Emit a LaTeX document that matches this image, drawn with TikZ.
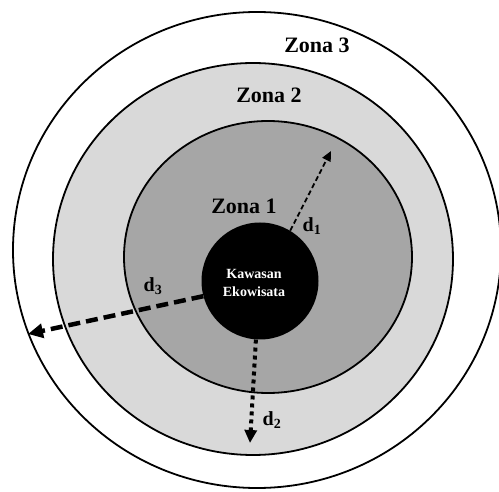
\documentclass[tikz,border=0pt]{standalone}
\usepackage{fontspec}
\setmainfont{Liberation Serif}
\usetikzlibrary{shapes.geometric,arrows.meta}
\definecolor{zoneone}{HTML}{A6A6A6}
\definecolor{zonetwo}{HTML}{D9D9D9}

\begin{document}
\begin{tikzpicture}[x=1pt, y=-1pt,
  zone/.style={draw, ellipse, line width=1.8pt, inner sep=0pt},
  lbl/.style={font=\fontsize{22}{24}\selectfont\bfseries, inner sep=0pt},
  dlbl/.style={font=\fontsize{20}{22}\selectfont\bfseries, inner sep=0pt},
  arr/.style={line width=1.8pt, dash pattern=on 5pt off 3pt,
              -{Triangle[length=10pt,width=9pt]}},
  arrthick/.style={line width=4.5pt, dash pattern=on 12pt off 6pt,
              -{Triangle[length=15pt,width=14pt]}},
  arrdot/.style={line width=4pt, dash pattern=on 4pt off 4pt,
              -{Triangle[length=13pt,width=12pt]}}]
\useasboundingbox[fill=white] (0,0) rectangle (499,492);
% zones, outer to inner
\node[zone, fill=white, minimum width=488pt, minimum height=476pt] (z3) at (257,250) {};
\node[zone, fill=zonetwo, minimum width=400pt, minimum height=392pt] (z2) at (253,259) {};
\node[zone, fill=zoneone, minimum width=288pt, minimum height=272pt] (z1) at (268,257) {};
\node[circle, fill=black, minimum size=117pt, inner sep=0pt] (core) at (260,281) {};
\node[align=center, text=white, inner sep=0pt,
      font=\fontsize{14}{18}\selectfont\bfseries] (kw) at (254,283) {Kawasan\\Ekowisata};
% zone names
\node[lbl] (t3) at (317,45) {Zona 3};
\node[lbl] (t2) at (269,95) {Zona 2};
\node[lbl] (t1) at (244,206) {Zona 1};
% distances
\coordinate (e1) at (331,151);
\coordinate (e2) at (250,443);
\coordinate (e3) at (28,334);
\draw[arr] (core.59) -- (e1);
\draw[arrdot] (core.266) -- (e2);
\draw[arrthick] (core.195) -- (e3);
\node[dlbl] (d1) at (312,226) {d\textsubscript{1}};
\node[dlbl] (d2) at (272,420) {d\textsubscript{2}};
\node[dlbl] (d3) at (153,286) {d\textsubscript{3}};
\end{tikzpicture}
\end{document}
